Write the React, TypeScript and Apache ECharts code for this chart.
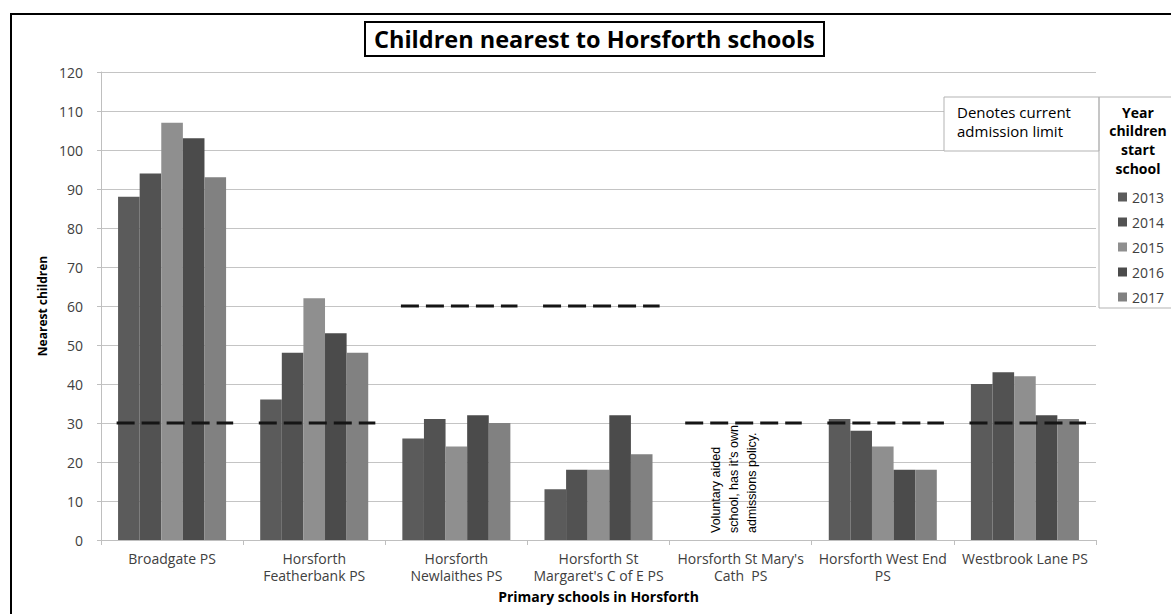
import React, { useEffect, useRef } from "react";
import * as echarts from "echarts";

const schools = [
  "Broadgate PS",
  "Horsforth\nFeatherbank PS",
  "Horsforth\nNewlaithes PS",
  "Horsforth St\nMargaret's C of E PS",
  "Horsforth St Mary's\nCath  PS",
  "Horsforth West End\nPS",
  "Westbrook Lane PS",
];
const years = ["2013", "2014", "2015", "2016", "2017"];
const yearColors = ["#5b5b5b", "#525252", "#8f8f8f", "#4b4b4b", "#818181"];
const v2013 = [88, 36, 26, 13, null, 31, 40];
const v2014 = [94, 48, 31, 18, null, 28, 43];
const v2015 = [107, 62, 24, 18, null, 24, 42];
const v2016 = [103, 53, 32, 32, null, 18, 32];
const v2017 = [93, 48, 30, 22, null, 18, 31];
const admissionLimits = [30, 30, 60, 60, 30, 30, 30];
const yTicks = { min: 0, max: 120, interval: 10 };
const noteSchoolIndex = 4;
const noteText = "Voluntary aided\nschool, has it's own\nadmissions policy.";

const FONT = "'Open Sans', Lato, sans-serif";

export default function App() {
  const ref = useRef<HTMLDivElement>(null);
  useEffect(() => {
    if (!ref.current) return;
    const chart = echarts.init(ref.current, undefined, { renderer: "svg" });
    const seriesValues = [v2013, v2014, v2015, v2016, v2017];
    const option: any = {
      animation: false,
      backgroundColor: "#ffffff",
      textStyle: { fontFamily: FONT },
      title: {
        text: "Children nearest to Horsforth schools",
        left: 365,
        top: 22,
        padding: [4, 9, 4, 9],
        borderColor: "#000",
        borderWidth: 2,
        textStyle: { fontSize: 23.5, fontWeight: "bold", color: "#000", fontFamily: FONT, lineHeight: 26 },
      },
      grid: { left: 101, right: 75, top: 72, bottom: 74 },
      legend: {
        data: years,
        orient: "vertical",
        left: 1113,
        top: 185,
        itemWidth: 9,
        itemHeight: 9,
        itemGap: 11,
        icon: "rect",
        textStyle: { fontSize: 14, lineHeight: 14, color: "#404040", fontFamily: FONT },
      },
      xAxis: {
        type: "category",
        data: schools,
        name: "Primary schools in Horsforth",
        nameLocation: "middle",
        nameGap: 49,
        nameTextStyle: { fontSize: 14, fontWeight: "bold", color: "#000", fontFamily: FONT },
        axisLine: { show: true, lineStyle: { color: "#bfbfbf" } },
        axisTick: { show: true, length: 5, lineStyle: { color: "#bfbfbf" } },
        axisLabel: {
          interval: 0,
          margin: 10,
          fontSize: 14,
          lineHeight: 17,
          color: "#404040",
          fontFamily: FONT,
        },
      },
      yAxis: {
        type: "value",
        min: yTicks.min,
        max: yTicks.max,
        interval: yTicks.interval,
        name: "Nearest children",
        nameLocation: "middle",
        nameGap: 52,
        nameTextStyle: { fontSize: 12, fontWeight: "bold", color: "#000", fontFamily: FONT },
        axisLine: { show: true, lineStyle: { color: "#bfbfbf" } },
        axisTick: { show: true, length: 4, lineStyle: { color: "#bfbfbf" } },
        axisLabel: { margin: 18, fontSize: 14, color: "#404040", fontFamily: FONT },
        splitLine: { show: true, lineStyle: { color: "#c4c4c4" } },
      },
      series: [
        ...years.map((y, k) => ({
          name: y,
          type: "bar",
          data: seriesValues[k],
          barGap: "0%",
          barCategoryGap: "24%",
          itemStyle: { color: yearColors[k] },
          z: 2,
        })),
        {
          name: "limit",
          type: "custom",
          z: 5,
          data: admissionLimits.map((v, i) => [i, v]),
          encode: { x: 0, y: 1 },
          renderItem: (params: any, api: any) => {
            const c = api.coord([api.value(0), api.value(1)]);
            const bw = api.size([1, 0])[0];
            const left = c[0] - bw / 2;
            return {
              type: "line",
              shape: { x1: left + bw * 0.11, y1: c[1], x2: left + bw * 0.93, y2: c[1] },
              style: { stroke: "#151515", lineWidth: 3, lineDash: [18, 7] },
            };
          },
        },
        {
          name: "note",
          type: "custom",
          z: 6,
          data: [[noteSchoolIndex, 0]],
          encode: { x: 0, y: 1 },
          renderItem: (params: any, api: any) => {
            const c = api.coord([api.value(0), api.value(1)]);
            const bw = api.size([1, 0])[0];
            return {
              type: "text",
              x: c[0] - bw * 0.24,
              y: c[1] - 7,
              rotation: Math.PI / 2,
              style: {
                text: noteText,
                fontFamily: "'Liberation Sans', Arial, sans-serif",
                fontSize: 12.5,
                lineHeight: 18,
                fill: "#000",
                align: "left",
                verticalAlign: "top",
              },
            };
          },
        },
      ],
      graphic: [
        {
          type: "rect",
          shape: { x: 11, y: 14, width: 1200, height: 650 },
          style: { fill: "none", stroke: "#000", lineWidth: 2 },
          silent: true,
          z: 0,
        },
        {
          type: "rect",
          z: 100,
          shape: { x: 944, y: 97, width: 155, height: 54 },
          style: { fill: "#fff", stroke: "#b3b3b3", lineWidth: 1 },
        },
        {
          type: "text",
          z: 101,
          x: 957,
          y: 102.5,
          style: {
            text: "Denotes current\nadmission limit",
            fontSize: 15,
            lineHeight: 19,
            fill: "#000",
            fontFamily: FONT,
            verticalAlign: "top",
          },
        },
        {
          type: "rect",
          z: 100,
          shape: { x: 1099, y: 97, width: 90, height: 211 },
          style: { fill: "none", stroke: "#b3b3b3", lineWidth: 1 },
        },
        {
          type: "text",
          z: 101,
          x: 1138,
          y: 102.7,
          style: {
            text: "Year\nchildren\nstart\nschool",
            fontSize: 14,
            fontWeight: "bold",
            lineHeight: 18.7,
            align: "center",
            verticalAlign: "top",
            fill: "#000",
            fontFamily: FONT,
          },
        },
      ],
    };
    chart.setOption(option);
    return () => chart.dispose();
  }, []);
  return (
    <div
      ref={ref}
      style={{ position: "fixed", left: 0, top: 0, width: 1171, height: 614, background: "#fff" }}
    />
  );
}
